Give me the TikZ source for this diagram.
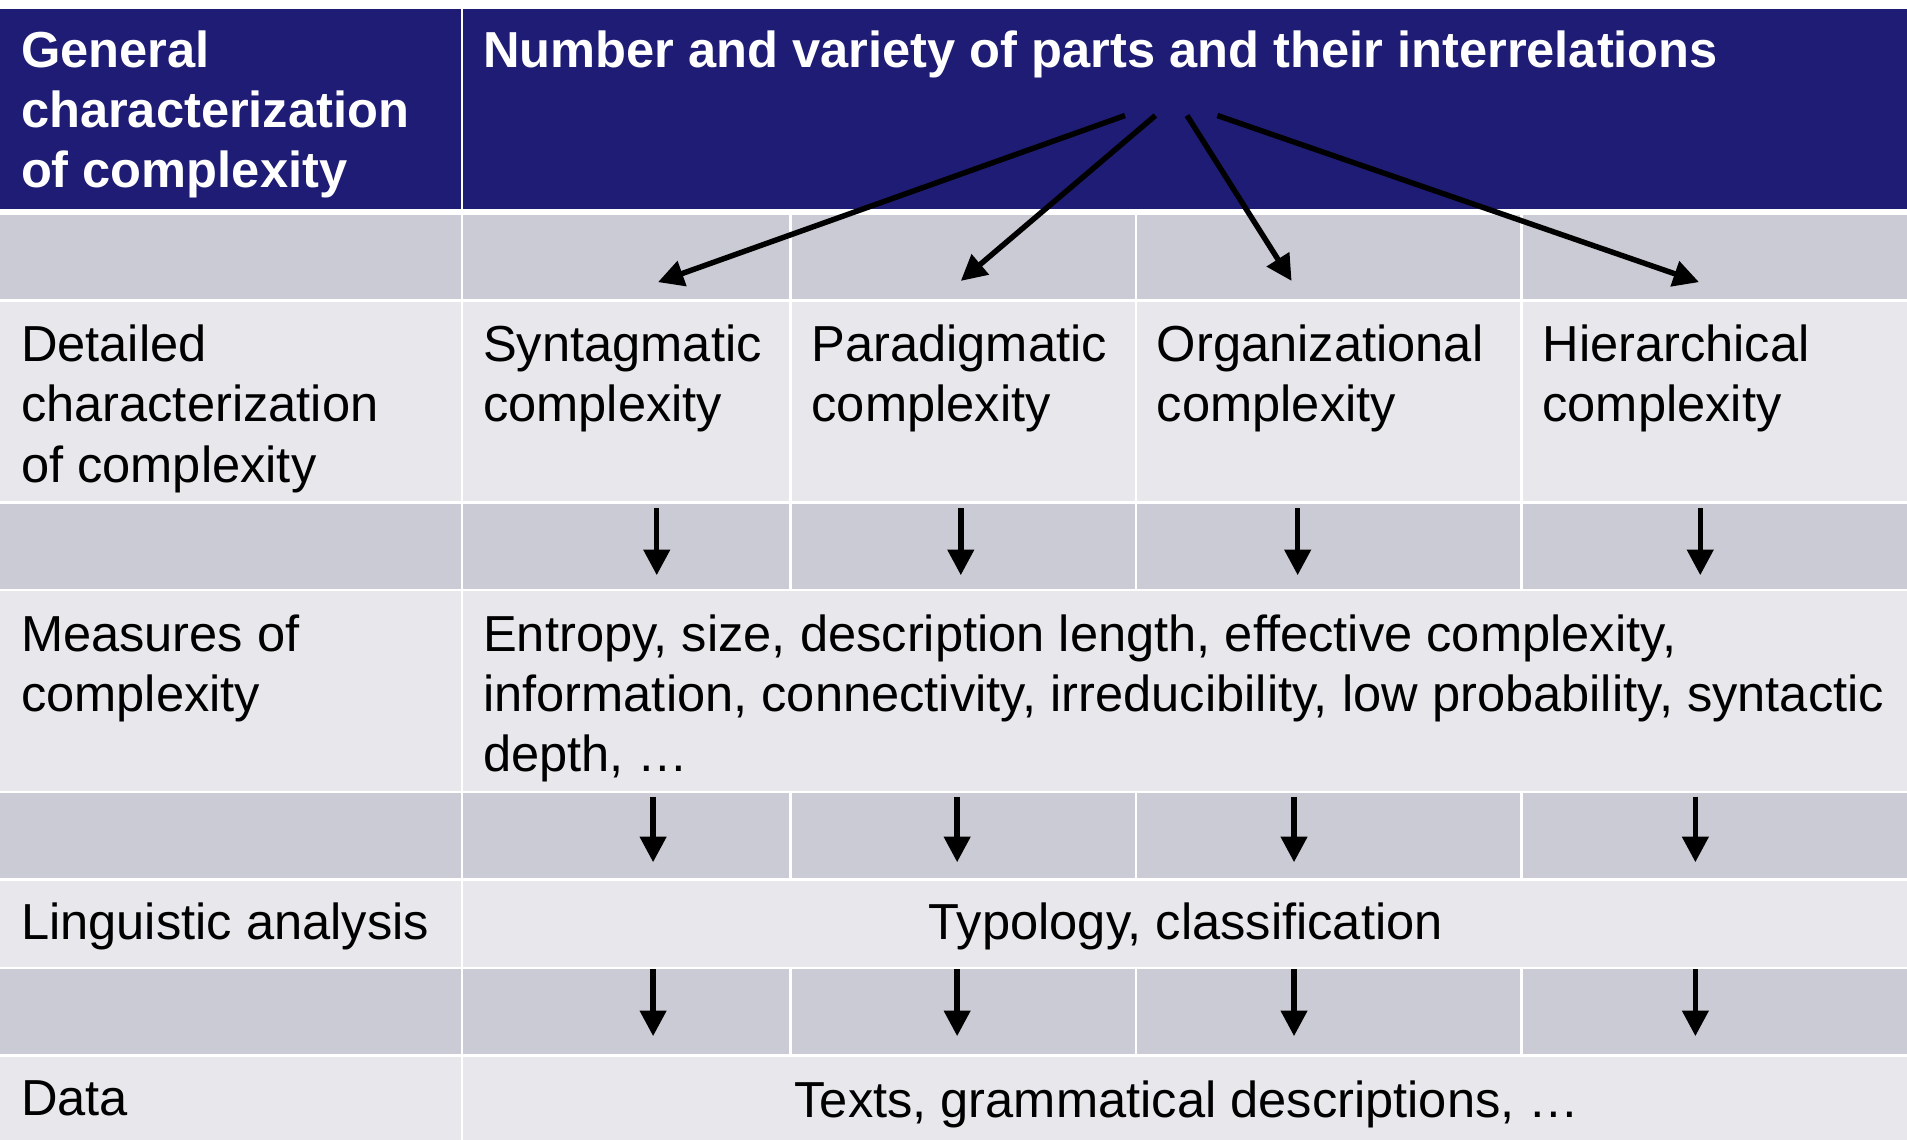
\documentclass[tikz,border=0pt]{standalone}
\usepackage{fontspec}
\setmainfont{Liberation Sans}
\usetikzlibrary{arrows.meta}
\definecolor{hdrblue}{RGB}{31,28,117}
\definecolor{rowdark}{RGB}{203,203,213}
\definecolor{rowlight}{RGB}{231,231,236}
\newcommand{\cellfont}{\fontsize{29.6}{35.2}\selectfont}
\tikzstyle{hdr} = [anchor=north west, inner sep=0pt, align=left, text=white, font=\cellfont\bfseries]
\tikzstyle{cell} = [anchor=north west, inner sep=0pt, align=left, font=\cellfont]
\tikzstyle{midcell} = [anchor=north, inner sep=0pt, font=\cellfont]
\tikzstyle{arrow} = [line width=3.2pt, -{Triangle[length=15pt,width=15pt]}]

\begin{document}
\begin{tikzpicture}[x=0.025cm, y=-0.025cm]
    \useasboundingbox (0,0) rectangle (1568,937);
    \fill[white] (0,0) rectangle (1568,937);
    \fill[hdrblue] (0,7) rectangle (379,172);
    \fill[hdrblue] (381,7) rectangle (1568,172);
    \foreach \ya/\yb in {177/246, 414/484, 652/722, 797/867}
        \foreach \xa/\xb in {0/379, 381/649, 651/933, 935/1250, 1252/1568}
            \fill[rowdark] (\xa,\ya) rectangle (\xb,\yb);
    \foreach \xa/\xb in {0/379, 381/649, 651/933, 935/1250, 1252/1568}
        \fill[rowlight] (\xa,248) rectangle (\xb,412);
    \foreach \ya/\yb in {486/650, 724/795, 869/937}
        \foreach \xa/\xb in {0/379, 381/1568}
            \fill[rowlight] (\xa,\ya) rectangle (\xb,\yb);

    \node (general) [hdr] at (17,25) {General\\characterization\\of complexity};
    \node (parts) [hdr] at (397,25) {Number and variety of parts and their interrelations};
    \node (detailed) [cell] at (17,267) {Detailed\\characterization\\of complexity};
    \node (syn) [cell] at (397,267) {Syntagmatic\\complexity};
    \node (para) [cell] at (667,267) {Paradigmatic\\complexity};
    \node (org) [cell] at (951,267) {Organizational\\complexity};
    \node (hier) [cell] at (1268,267) {Hierarchical\\complexity};
    \node (measures) [cell] at (17,505) {Measures of\\complexity};
    \node (entropy) [cell] at (397,505) {Entropy, size, description length, effective complexity,\\information, connectivity, irreducibility, low probability, syntactic\\depth, …};
    \node (analysis) [cell] at (17,742) {Linguistic analysis};
    \node (typology) [midcell] at (975,742) {Typology, classification};
    \node (data) [cell] at (17,888) {Data};
    \node (texts) [midcell] at (976,888) {Texts, grammatical descriptions, …};

    \foreach \xs/\xe/\ye [count=\i] in {925/541/232, 950/790/231, 976/1062/231, 1001/1397/232} {
        \coordinate (fan\i) at (\xs,95);
        \coordinate (kind\i) at (\xe,\ye);
        \draw [arrow] (fan\i) -- (kind\i);
    }
    \foreach \x [count=\i] in {540,790,1067,1398} {
        \coordinate (ma\i) at (\x,418);
        \coordinate (mb\i) at (\x,473);
        \draw [arrow] (ma\i) -- (mb\i);
    }
    \foreach \x [count=\i] in {537,787,1064,1394} {
        \coordinate (la\i) at (\x,655);
        \coordinate (lb\i) at (\x,709);
        \draw [arrow] (la\i) -- (lb\i);
        \coordinate (da\i) at (\x,797);
        \coordinate (db\i) at (\x,852);
        \draw [arrow] (da\i) -- (db\i);
    }
\end{tikzpicture}
\end{document}
